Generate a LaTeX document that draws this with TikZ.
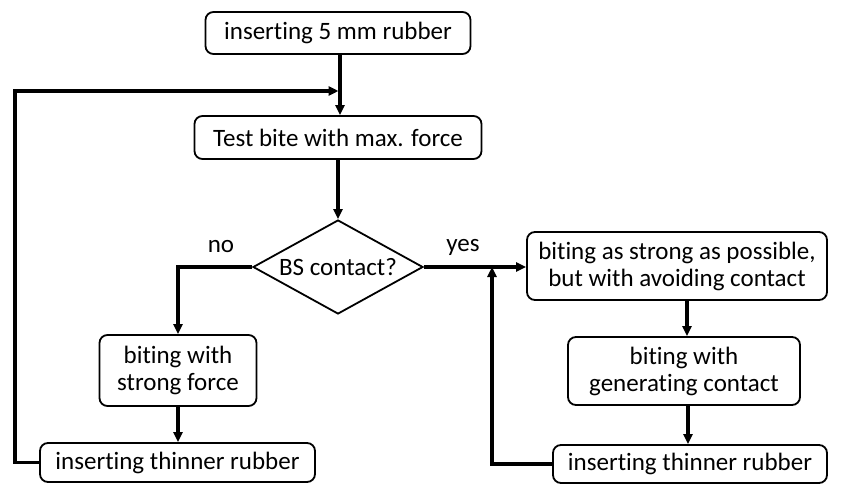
\documentclass[tikz,border=0pt]{standalone}
\usepackage{fontspec}
\setmainfont[RawFeature={-liga}]{Carlito}
\usetikzlibrary{shapes.geometric,arrows.meta}
\begin{document}
\begin{tikzpicture}[x=1pt,y=-1pt,
  every node/.style={font=\fontsize{25}{27}\selectfont},
  procbox/.style={draw, line width=1.8pt, rounded corners=8pt, align=center, inner sep=0pt},
  decbox/.style={draw, line width=1.8pt, diamond, aspect=1.8, inner sep=0pt},
  flow/.style={line width=3.2pt, -{Triangle[length=10pt,width=9pt]}},
  lbl/.style={inner sep=0pt}]
\useasboundingbox (0,0) rectangle (844,484);
\node[procbox, minimum width=265pt, minimum height=42pt] (b1) at (338,33) {inserting 5 mm rubber};
\node[procbox, minimum width=287pt, minimum height=43pt] (b2) at (338,137.5) {Test bite with max. force};
\node[decbox, minimum width=170pt, minimum height=94pt] (d) at (338,267) {BS contact?};
\node[procbox, minimum width=300pt, minimum height=68pt] (b3) at (677,266) {biting as strong as possible,\\but with avoiding contact};
\node[procbox, minimum width=232pt, minimum height=68pt] (b4) at (684,371) {biting with\\generating contact};
\node[procbox, minimum width=274pt, minimum height=38pt] (b5) at (690,464) {inserting thinner rubber};
\node[procbox, minimum width=157pt, minimum height=71pt] (b6) at (178,370.5) {biting with\\strong force};
\node[procbox, minimum width=275pt, minimum height=39pt] (b7) at (177.5,462.5) {inserting thinner rubber};
\coordinate (m) at (340,91);
\coordinate (yj) at (492,267);
\node[lbl] (no) at (221,247) {no};
\node[lbl] (yes) at (463,247) {yes};
\draw[flow] (b1.south -| m) -- (b2.north -| m);
\draw[flow] (b2) -- (d);
\draw[flow] (d.east) -- (b3.west |- d.east);
\draw[flow] (d.west) -| (b6.north);
\draw[flow] (b6) -- (b6 |- b7.north);
\draw[flow] (b3.south -| 687,0) -- (b4.north -| 687,0);
\draw[flow] (b4.south -| 688,0) -- (b5.north -| 688,0);
\draw[flow] (b5.west) -| (yj);
\draw[flow] (b7.west) -| (15,91) -- ([xshift=-1.5pt]m);
\end{tikzpicture}
\end{document}
